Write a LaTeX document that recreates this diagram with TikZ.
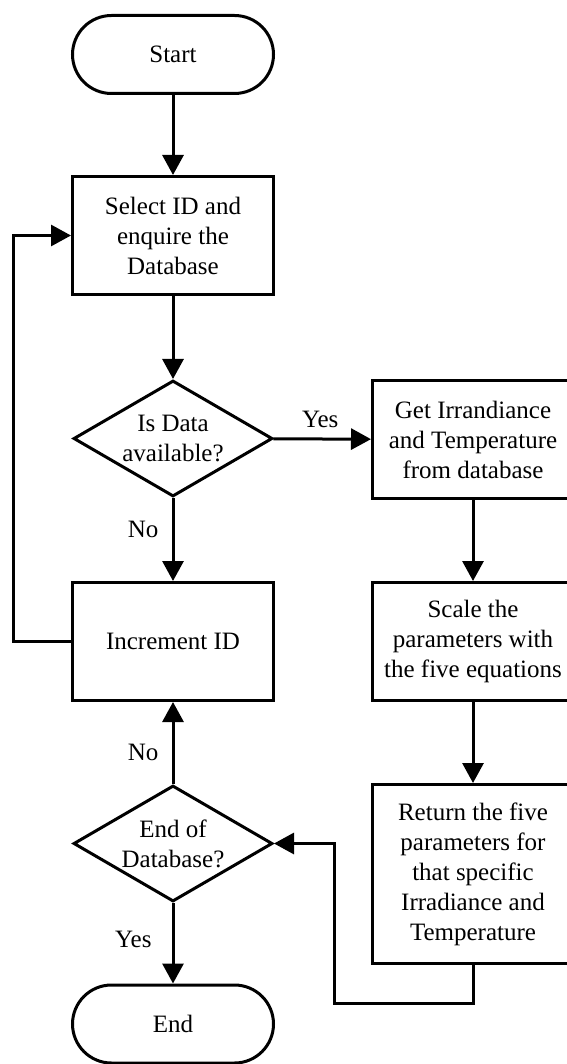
\documentclass[tikz,border=0pt]{standalone}
\usepackage{fontspec}
\setmainfont{Liberation Serif}
\usetikzlibrary{shapes.geometric,arrows.meta}

\begin{document}
\begin{tikzpicture}[-,>={Triangle[length=20pt,width=21pt]},line width=3pt,node distance=203pt,
    term node/.style={rectangle,rounded corners=39pt,draw,minimum width=201pt,minimum height=78pt,font=\fontsize{25pt}{30pt}\selectfont},
    proc node/.style={rectangle,draw,align=center,inner sep=0pt,minimum width=201pt,minimum height=118pt,font=\fontsize{25pt}{30pt}\selectfont},
    dec node/.style={diamond,draw,align=center,aspect=1.7,inner sep=0pt,minimum width=199pt,minimum height=116pt,font=\fontsize{25pt}{30pt}\selectfont}]
                \useasboundingbox (0,0) rectangle (566pt,-1064pt);

                \node[term node] (start) at (173pt,-54.5pt) {Start};
                \node[proc node] (select) [below of=start,node distance=181pt] {Select ID and\\enquire the\\Database};
                \node[dec node] (avail) [below of=select] {Is Data\\available?};
                \node[proc node] (incr) [below of=avail] {Increment ID};
                \node[dec node] (enddb) [below of=incr,node distance=202pt] {End of\\Database?};
                \node[term node] (end) [below of=enddb,node distance=180.5pt] {End};

                \node[proc node] (get) [right of=avail,node distance=300pt,yshift=-1pt] {Get Irrandiance\\and Temperature\\from database};
                \node[proc node] (scale) [below of=get,node distance=202pt] {Scale the\\parameters with\\the five equations};
                \node[proc node,minimum height=179pt] (ret) [below of=scale,node distance=232.5pt] {Return the five\\parameters for\\that specific\\Irradiance and\\Temperature};

                \coordinate (bend) at ([xshift=60pt]enddb.east);

                \path[->,every node/.style={font=\fontsize{25pt}{30pt}\selectfont,inner sep=0pt}]
                    (start) edge (select)
                    (select) edge (avail)
                    (avail) edge node[above=10pt,pos=0.48] {Yes} (get)
                    (avail) edge node[left=13pt,pos=0.38] {No} (incr)
                    (get) edge (scale)
                    (scale) edge (ret)
                    (enddb) edge node[left=13pt,pos=0.39] {No} (incr)
                    (enddb) edge node[left=20pt,pos=0.45] {Yes} (end)
                    ;
                \draw[->] (incr.west) -- ++(-58pt,0) |- (select.west);
                \draw[->] (ret.south) -- ++(0,-38pt) -| (bend) -- (enddb.east);
            \end{tikzpicture}
\end{document}
